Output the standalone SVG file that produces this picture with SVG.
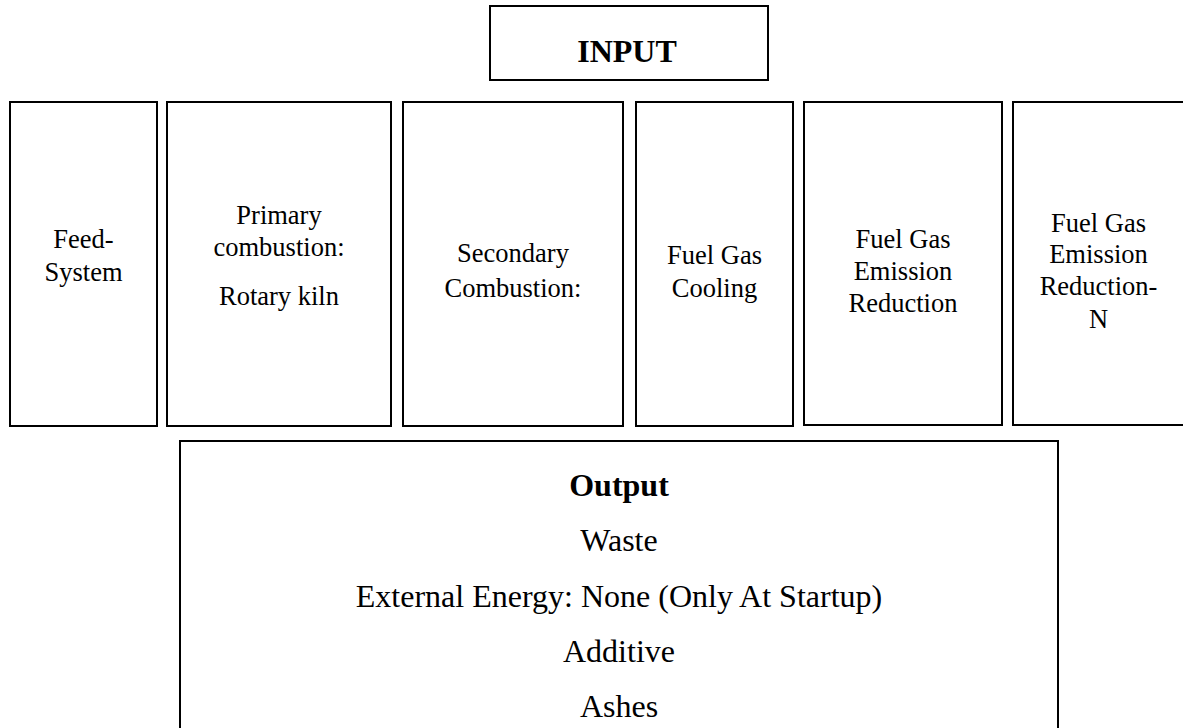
<svg xmlns="http://www.w3.org/2000/svg" width="1183" height="728" viewBox="0 0 1183 728">
  <style>
    .box { fill: #ffffff; stroke: #000000; stroke-width: 2; }
    text { font-family: 'Liberation Serif', Tinos, 'DejaVu Serif', serif; fill: #000000; text-anchor: middle; }
    .lbl { font-size: 26.5px; }
    .big { font-size: 32px; }
    .bold { font-weight: bold; }
  </style>
  <rect x="0" y="0" width="1183" height="728" fill="#ffffff"/>

  <!-- input header -->
  <g id="input">
    <rect class="box" x="490" y="6" width="278" height="74"/>
    <text class="big bold" x="627" y="62" font-size="30">INPUT</text>
  </g>

  <!-- process stages -->
  <g id="feed-system">
    <rect class="box" x="10" y="102" width="147" height="324"/>
    <text class="lbl" x="83.5" y="248">Feed-</text>
    <text class="lbl" x="83.5" y="281">System</text>
  </g>

  <g id="primary-combustion">
    <rect class="box" x="167" y="102" width="224" height="324"/>
    <text class="lbl" x="279" y="224">Primary</text>
    <text class="lbl" x="279" y="256">combustion:</text>
    <text class="lbl" x="279" y="305">Rotary kiln</text>
  </g>

  <g id="secondary-combustion">
    <rect class="box" x="403" y="102" width="220" height="324"/>
    <text class="lbl" x="513" y="262">Secondary</text>
    <text class="lbl" x="513" y="297">Combustion:</text>
  </g>

  <g id="fuel-gas-cooling">
    <rect class="box" x="636" y="102" width="157" height="324"/>
    <text class="lbl" x="714.5" y="264">Fuel Gas</text>
    <text class="lbl" x="714.5" y="297">Cooling</text>
  </g>

  <g id="emission-reduction">
    <rect class="box" x="804" y="102" width="198" height="323"/>
    <text class="lbl" x="903" y="248">Fuel Gas</text>
    <text class="lbl" x="903" y="280">Emission</text>
    <text class="lbl" x="903" y="312">Reduction</text>
  </g>

  <g id="emission-reduction-n">
    <rect class="box" x="1013" y="102" width="174" height="323"/>
    <text class="lbl" x="1098.5" y="232">Fuel Gas</text>
    <text class="lbl" x="1098.5" y="263">Emission</text>
    <text class="lbl" x="1098.5" y="295">Reduction-</text>
    <text class="lbl" x="1098.5" y="328">N</text>
  </g>

  <!-- output summary -->
  <g id="output">
    <rect class="box" x="180" y="441" width="878" height="300"/>
    <text class="big bold" x="619" y="496">Output</text>
    <text class="big" x="619" y="551">Waste</text>
    <text class="big" x="619" y="607">External Energy: None (Only At Startup)</text>
    <text class="big" x="619" y="662">Additive</text>
    <text class="big" x="619" y="717">Ashes</text>
  </g>

  <g id="connectors"></g>
</svg>
